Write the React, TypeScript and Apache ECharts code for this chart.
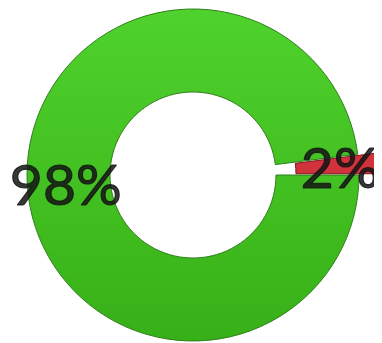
import React, { useEffect, useRef } from "react";
import * as echarts from "echarts";

const categories = ["Yes", "No"];
const values = [98, 2];
const labels = ["98%", "2%"];

export default function App() {
  const ref = useRef<HTMLDivElement>(null);
  useEffect(() => {
    if (!ref.current) return;
    const chart = echarts.init(ref.current, null, { renderer: "svg" });
    const green = new echarts.graphic.LinearGradient(0, 0, 0, 1, [
      { offset: 0, color: "#4fd22d" },
      { offset: 1, color: "#37b017" },
    ]);
    const colors = [green, "#d2323c"];
    const borders = ["#2f7f1c", "#7d1a1d"];
    chart.setOption({
      animation: false,
      series: [
        {
          type: "pie",
          center: [185, 167],
          radius: [83, 166],
          startAngle: 0,
          clockwise: true,
          selectedMode: "single",
          selectedOffset: 20,
          emphasis: { disabled: true },
          labelLine: { show: false },
          label: {
            show: true,
            position: "inside",
            fontFamily: "Lato",
            fontSize: 57,
            color: "rgba(20,20,20,0.85)",
            textBorderColor: "rgba(20,20,20,0.85)",
            textBorderWidth: 1.2,
            formatter: (p: any) => labels[p.dataIndex],
          },
          data: categories.map((c, i) => ({
            name: c,
            value: values[i],
            selected: i === 1,
            itemStyle: { color: colors[i], borderColor: borders[i], borderWidth: 1 },
          })),
        },
      ],
    });
    return () => chart.dispose();
  }, []);
  return <div ref={ref} style={{ width: 374, height: 335 }} />;
}
